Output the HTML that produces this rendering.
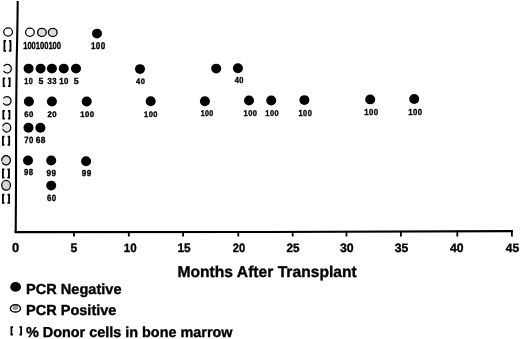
<!DOCTYPE html>
<html><head><meta charset="utf-8"><style>
html,body{margin:0;padding:0;background:#fff;}
body{width:520px;height:339px;overflow:hidden;}
svg{display:block;will-change:transform;}
text{font-family:"Liberation Sans",sans-serif;font-weight:bold;fill:#000;stroke:#000;stroke-width:0.35px;text-rendering:geometricPrecision;}
text.d{stroke-width:0.35px;}
</style></head><body>
<svg width="520" height="339" viewBox="0 0 520 339">
<g>
<rect width="520" height="339" fill="#fff"/>
<path d="M17.7,0.9 L17.5,20 L17.15,40 L16.7,60 L16.5,80 L16.25,100 L16.1,130 L16.0,185 L15.7,232.3" stroke="#000" stroke-width="2.1" fill="none" stroke-linejoin="round"/>
<path d="M14.6,232.1 L265,232 L512.8,231.1" stroke="#000" stroke-width="2.1" fill="none"/>
<path d="M74.0,231.6 L74.0,236.5" stroke="#000" stroke-width="1.8" fill="none"/>
<path d="M128.8,231.6 L128.8,236.5" stroke="#000" stroke-width="1.8" fill="none"/>
<path d="M183.1,231.6 L183.1,236.5" stroke="#000" stroke-width="1.8" fill="none"/>
<path d="M238.3,231.6 L238.3,236.5" stroke="#000" stroke-width="1.8" fill="none"/>
<path d="M292.7,231.5 L292.7,236.5" stroke="#000" stroke-width="1.8" fill="none"/>
<path d="M346.5,231.3 L346.5,236.5" stroke="#000" stroke-width="1.8" fill="none"/>
<path d="M400.9,231.1 L400.9,236.5" stroke="#000" stroke-width="1.8" fill="none"/>
<path d="M457.3,230.8 L457.3,236.5" stroke="#000" stroke-width="1.8" fill="none"/>
<path d="M511.9,230.6 L511.9,236.5" stroke="#000" stroke-width="1.8" fill="none"/>
<text transform="translate(11.89,251.80) scale(0.999,1)" font-size="12.86">0</text>
<text transform="translate(70.43,252.40) scale(0.990,1)" font-size="12.32">5</text>
<text transform="translate(123.85,252.40) scale(0.951,1)" font-size="12.14">10</text>
<text transform="translate(177.53,252.40) scale(0.963,1)" font-size="12.32">15</text>
<text transform="translate(232.71,252.40) scale(0.915,1)" font-size="12.14">20</text>
<text transform="translate(286.49,252.40) scale(0.965,1)" font-size="12.14">25</text>
<text transform="translate(339.89,252.40) scale(1.017,1)" font-size="12.14">30</text>
<text transform="translate(394.70,252.40) scale(1.002,1)" font-size="12.14">35</text>
<text transform="translate(450.02,252.40) scale(1.007,1)" font-size="12.14">40</text>
<text transform="translate(505.82,251.70) scale(0.990,1)" font-size="12.17">45</text>
<text x="177.48" y="276.60" font-size="15.65">Months After Transplant</text>
<ellipse cx="15.6" cy="286.9" rx="5.4" ry="4.9" fill="#000"/>
<ellipse cx="15.45" cy="308.4" rx="5.05" ry="3.7" fill="#fff" stroke="#000" stroke-width="1.45"/>
<ellipse cx="15.4" cy="307.9" rx="2.5" ry="1.7" fill="#999" stroke="#555" stroke-width="0.6"/>
<text transform="translate(26.05,294.10) scale(1.004,1)" font-size="14.50">PCR Negative</text>
<text transform="translate(26.06,314.60) scale(1.001,1)" font-size="14.50">PCR Positive</text>
<text transform="translate(25.94,337.10) scale(0.998,1)" font-size="14.45">% Donor cells in bone marrow</text>
<path d="M13.00,327.05 H11.40 V334.55 H13.00" stroke="#000" stroke-width="1.8" fill="none"/><path d="M19.50,327.05 H21.10 V334.55 H19.50" stroke="#000" stroke-width="1.8" fill="none"/>
<ellipse cx="8.1" cy="32.0" rx="4.4" ry="4.05" fill="#fff" stroke="#000" stroke-width="1.25"/>
<ellipse cx="7.2" cy="68.7" rx="3.40" ry="3.55" fill="#f4f4f4"/><ellipse cx="7.2" cy="68.7" rx="4.2" ry="4.35" fill="none" stroke="#f2f2f2" stroke-width="0.96"/><path d="M3.76,66.20 A4.2,4.35 0 1 1 3.56,70.88" fill="none" stroke="#000" stroke-width="1.2"/>
<ellipse cx="6.9" cy="100.9" rx="3.40" ry="3.50" fill="#eeeeee"/><ellipse cx="6.9" cy="100.9" rx="4.2" ry="4.3" fill="none" stroke="#eeeeee" stroke-width="0.96"/><path d="M3.46,98.43 A4.2,4.3 0 1 1 3.26,103.05" fill="none" stroke="#000" stroke-width="1.2"/>
<ellipse cx="6.65" cy="127.6" rx="3.35" ry="3.65" fill="#e6e6e6"/><ellipse cx="6.65" cy="127.6" rx="4.15" ry="4.45" fill="none" stroke="#cccccc" stroke-width="0.96"/><path d="M2.64,126.45 A4.15,4.45 0 1 1 2.75,129.12" fill="none" stroke="#000" stroke-width="1.2"/>
<ellipse cx="6.1" cy="160.3" rx="3.60" ry="3.85" fill="#d8d8d8"/><ellipse cx="6.1" cy="160.3" rx="4.4" ry="4.65" fill="none" stroke="#777" stroke-width="0.96"/><path d="M1.72,160.71 A4.4,4.65 0 1 1 2.29,162.62" fill="none" stroke="#000" stroke-width="1.2"/>
<ellipse cx="6.1" cy="185.3" rx="4.4" ry="4.9" fill="#d4d4d4" stroke="#000" stroke-width="1.25"/>
<path d="M6.00,40.85 H4.40 V50.95 H6.00" stroke="#000" stroke-width="1.8" fill="none"/><path d="M8.90,40.85 H10.50 V50.95 H8.90" stroke="#000" stroke-width="1.8" fill="none"/>
<path d="M5.20,78.45 H3.60 V86.05 H5.20" stroke="#000" stroke-width="1.8" fill="none"/><path d="M8.10,78.45 H9.70 V86.05 H8.10" stroke="#000" stroke-width="1.8" fill="none"/>
<path d="M4.90,110.95 H3.30 V118.65 H4.90" stroke="#000" stroke-width="1.8" fill="none"/><path d="M7.90,110.95 H9.50 V118.65 H7.90" stroke="#000" stroke-width="1.8" fill="none"/>
<path d="M4.50,136.65 H2.90 V144.85 H4.50" stroke="#000" stroke-width="1.8" fill="none"/><path d="M7.60,136.65 H9.20 V144.85 H7.60" stroke="#000" stroke-width="1.8" fill="none"/>
<path d="M4.50,169.45 H2.90 V177.65 H4.50" stroke="#000" stroke-width="1.8" fill="none"/><path d="M7.35,169.45 H8.95 V177.65 H7.35" stroke="#000" stroke-width="1.8" fill="none"/>
<path d="M4.50,194.65 H2.90 V202.85 H4.50" stroke="#000" stroke-width="1.8" fill="none"/><path d="M7.50,194.65 H9.10 V202.85 H7.50" stroke="#000" stroke-width="1.8" fill="none"/>
<ellipse cx="97.0" cy="33.6" rx="5.0" ry="4.95" fill="#000"/>
<ellipse cx="28.6" cy="68.6" rx="5.0" ry="4.95" fill="#000"/>
<ellipse cx="40.6" cy="68.6" rx="5.0" ry="4.95" fill="#000"/>
<ellipse cx="51.9" cy="68.6" rx="5.0" ry="4.95" fill="#000"/>
<ellipse cx="63.75" cy="68.6" rx="5.0" ry="4.95" fill="#000"/>
<ellipse cx="76.0" cy="68.6" rx="5.0" ry="4.95" fill="#000"/>
<ellipse cx="140.0" cy="69.1" rx="5.0" ry="4.95" fill="#000"/>
<ellipse cx="216.2" cy="68.6" rx="5.0" ry="4.95" fill="#000"/>
<ellipse cx="237.9" cy="68.3" rx="5.0" ry="4.95" fill="#000"/>
<ellipse cx="28.9" cy="101.5" rx="5.0" ry="4.95" fill="#000"/>
<ellipse cx="51.9" cy="101.5" rx="5.0" ry="4.95" fill="#000"/>
<ellipse cx="86.7" cy="101.5" rx="5.0" ry="4.95" fill="#000"/>
<ellipse cx="150.7" cy="101.2" rx="5.0" ry="4.95" fill="#000"/>
<ellipse cx="204.9" cy="101.2" rx="5.0" ry="4.95" fill="#000"/>
<ellipse cx="249.0" cy="100.5" rx="5.0" ry="4.95" fill="#000"/>
<ellipse cx="271.2" cy="100.5" rx="5.0" ry="4.95" fill="#000"/>
<ellipse cx="304.4" cy="100.1" rx="5.0" ry="4.95" fill="#000"/>
<ellipse cx="370.2" cy="99.4" rx="5.0" ry="4.95" fill="#000"/>
<ellipse cx="414.2" cy="99.0" rx="5.0" ry="4.95" fill="#000"/>
<ellipse cx="28.5" cy="127.8" rx="5.0" ry="4.95" fill="#000"/>
<ellipse cx="40.4" cy="127.8" rx="5.0" ry="4.95" fill="#000"/>
<ellipse cx="28.0" cy="160.5" rx="5.0" ry="4.95" fill="#000"/>
<ellipse cx="51.2" cy="160.5" rx="5.0" ry="4.95" fill="#000"/>
<ellipse cx="86.1" cy="161.3" rx="5.0" ry="4.95" fill="#000"/>
<ellipse cx="51.2" cy="185.6" rx="5.0" ry="4.95" fill="#000"/>
<ellipse cx="29.9" cy="32.25" rx="4.35" ry="4.05" fill="#fff" stroke="#000" stroke-width="1.3"/>
<ellipse cx="41.9" cy="32.4" rx="4.35" ry="4.05" fill="#dcdcdc" stroke="#000" stroke-width="1.3"/>
<ellipse cx="52.75" cy="32.4" rx="4.35" ry="4.05" fill="#dcdcdc" stroke="#000" stroke-width="1.3"/>
<text transform="translate(23.21,48.50) scale(0.734,1)" font-size="10.29" class="d">100100100</text>
<text transform="translate(90.88,49.00) scale(0.830,1)" font-size="9.71" letter-spacing="0.5" class="d">100</text>
<text transform="translate(24.28,84.30) scale(0.837,1)" font-size="8.71" letter-spacing="0.5" class="d">10</text>
<text transform="translate(38.49,84.30) scale(0.984,1)" font-size="8.84" letter-spacing="0.5" class="d">5</text>
<text transform="translate(47.56,84.30) scale(0.881,1)" font-size="8.71" letter-spacing="0.5" class="d">33</text>
<text transform="translate(59.24,84.30) scale(0.902,1)" font-size="8.71" letter-spacing="0.5" class="d">10</text>
<text transform="translate(73.84,84.30) scale(0.995,1)" font-size="8.84" letter-spacing="0.5" class="d">5</text>
<text transform="translate(136.09,83.90) scale(0.940,1)" font-size="8.00" letter-spacing="0.5" class="d">40</text>
<text transform="translate(234.79,83.40) scale(0.856,1)" font-size="8.71" letter-spacing="0.5" class="d">40</text>
<text transform="translate(24.33,116.50) scale(0.952,1)" font-size="8.14" letter-spacing="0.5" class="d">60</text>
<text transform="translate(47.43,116.50) scale(0.952,1)" font-size="8.14" letter-spacing="0.5" class="d">20</text>
<text transform="translate(80.30,116.50) scale(0.949,1)" font-size="8.14" letter-spacing="0.5" class="d">100</text>
<text transform="translate(144.01,116.50) scale(0.920,1)" font-size="8.14" letter-spacing="0.5" class="d">100</text>
<text transform="translate(200.64,116.30) scale(0.847,1)" font-size="8.29" letter-spacing="0.5" class="d">100</text>
<text transform="translate(243.51,116.00) scale(0.891,1)" font-size="8.43" letter-spacing="0.5" class="d">100</text>
<text transform="translate(265.32,116.00) scale(0.883,1)" font-size="8.43" letter-spacing="0.5" class="d">100</text>
<text transform="translate(298.51,115.70) scale(0.856,1)" font-size="8.71" letter-spacing="0.5" class="d">100</text>
<text transform="translate(364.30,115.30) scale(0.891,1)" font-size="8.71" letter-spacing="0.5" class="d">100</text>
<text transform="translate(408.19,115.00) scale(0.877,1)" font-size="8.86" letter-spacing="0.5" class="d">100</text>
<text transform="translate(24.25,142.80) scale(0.864,1)" font-size="9.00" letter-spacing="0.5" class="d">70</text>
<text transform="translate(35.71,142.80) scale(0.929,1)" font-size="9.00" letter-spacing="0.5" class="d">68</text>
<text transform="translate(23.93,175.40) scale(0.871,1)" font-size="8.86" letter-spacing="0.5" class="d">98</text>
<text transform="translate(46.52,175.60) scale(0.916,1)" font-size="8.86" letter-spacing="0.5" class="d">99</text>
<text transform="translate(81.72,176.30) scale(0.916,1)" font-size="8.86" letter-spacing="0.5" class="d">99</text>
<text transform="translate(46.93,200.70) scale(0.866,1)" font-size="9.00" letter-spacing="0.5" class="d">60</text>
</g>
</svg>
</body></html>
